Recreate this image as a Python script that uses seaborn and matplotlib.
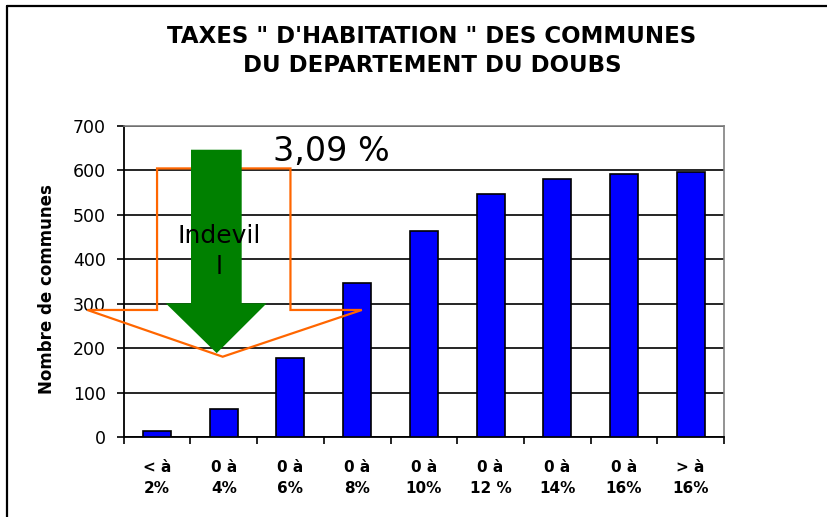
import matplotlib
matplotlib.use('Agg')
import matplotlib.pyplot as plt
import seaborn as sns
from matplotlib.patches import Polygon
from matplotlib.lines import Line2D

# data
categories = ['< à\n2%', '0 à\n4%', '0 à\n6%', '0 à\n8%', '0 à\n10%',
              '0 à\n12 %', '0 à\n14%', '0 à\n16%', '> à\n16%']
communes = [13, 64, 178, 347, 463, 547, 581, 591, 595]
y_ticks = [0, 100, 200, 300, 400, 500, 600, 700]

title_1 = 'TAXES " D\'HABITATION " DES COMMUNES'
title_2 = 'DU DEPARTEMENT DU DOUBS'
y_label = 'Nombre de communes'
note_rate = '3,09 %'
note_arrow = 'Indevil\nl'

sns.set_style('white')
plt.rcParams['font.family'] = ['DejaVu Sans']
plt.rcParams['text.color'] = 'black'
plt.rcParams['axes.labelcolor'] = 'black'
plt.rcParams['xtick.color'] = 'black'
plt.rcParams['ytick.color'] = 'black'

fig = plt.figure(figsize=(8.28, 5.17), dpi=100)
ax = fig.add_axes([0.1494, 0.1542, 0.725, 0.6027])

sns.barplot(x=categories, y=communes, color='#0000FF', saturation=1,
            edgecolor='black', linewidth=1.2, width=0.42, ax=ax, zorder=3)

ax.set_xlim(-0.5, len(categories) - 0.5)
ax.set_ylim(0, 700)
ax.set_yticks(y_ticks)
ax.set_yticklabels([str(v) for v in y_ticks], fontsize=12.5)
ax.tick_params(axis='y', direction='out', length=5, width=1.2, pad=8,
               left=True, color='black')

# category labels in the middle, tick marks between categories
ax.set_xticks(range(len(categories)))
ax.set_xticklabels(categories, fontsize=11, fontweight='bold', linespacing=1.5)
ax.tick_params(axis='x', which='major', length=0, pad=16)
ax.set_xticks([i + 0.5 for i in range(-1, len(categories))], minor=True)
ax.tick_params(axis='x', which='minor', direction='out', length=5, width=1.2,
               bottom=True, color='black')

ax.set_xlabel('')
ax.set_ylabel(y_label, fontsize=12, fontweight='bold')
ax.yaxis.set_label_coords(-0.113, 0.476)

ax.yaxis.grid(True, color='black', linewidth=1.2)
ax.set_axisbelow(True)
for side in ['left', 'bottom']:
    ax.spines[side].set_color('black')
    ax.spines[side].set_linewidth(1.3)
for side in ['top', 'right']:
    ax.spines[side].set_visible(True)
    ax.spines[side].set_color('#808080')
    ax.spines[side].set_linewidth(1.2)

# orange down-arrow callout (outline only)
callout = [(0.0, 604), (2.0, 604), (2.0, 286), (3.07, 286), (0.984, 181),
           (-1.046, 286), (0.0, 286)]
ax.add_patch(Polygon(callout, closed=True, fill=False, edgecolor='#FF6600',
                     linewidth=1.6, zorder=4, clip_on=False))

# green arrow
arrow = [(0.509, 646), (1.269, 646), (1.269, 301), (1.644, 301), (0.894, 189),
         (0.13, 301), (0.509, 301)]
ax.add_patch(Polygon(arrow, closed=True, facecolor='#008000', edgecolor='none',
                     zorder=5))

ax.text(0.93, 418, note_arrow, fontsize=18, ha='center', va='center',
        multialignment='center', linespacing=1.35, zorder=6)
ax.text(2.615, 641, note_rate, fontsize=24, ha='center', va='center', zorder=6)

# titles
fig.text(432 / 828, 1 - 43 / 517, title_1, fontsize=16.5, fontweight='bold',
         ha='center', va='baseline')
fig.text(432 / 828, 1 - 72 / 517, title_2, fontsize=16.5, fontweight='bold',
         ha='center', va='baseline')

# outer frame (left and top edges visible)
fig.add_artist(Line2D([7 / 828, 7 / 828], [0, 1 - 6 / 517], color='black',
                      linewidth=1.6, transform=fig.transFigure))
fig.add_artist(Line2D([7 / 828, 1], [1 - 6 / 517, 1 - 6 / 517], color='black',
                      linewidth=1.6, transform=fig.transFigure))

fig.savefig('out.png', dpi=100)
